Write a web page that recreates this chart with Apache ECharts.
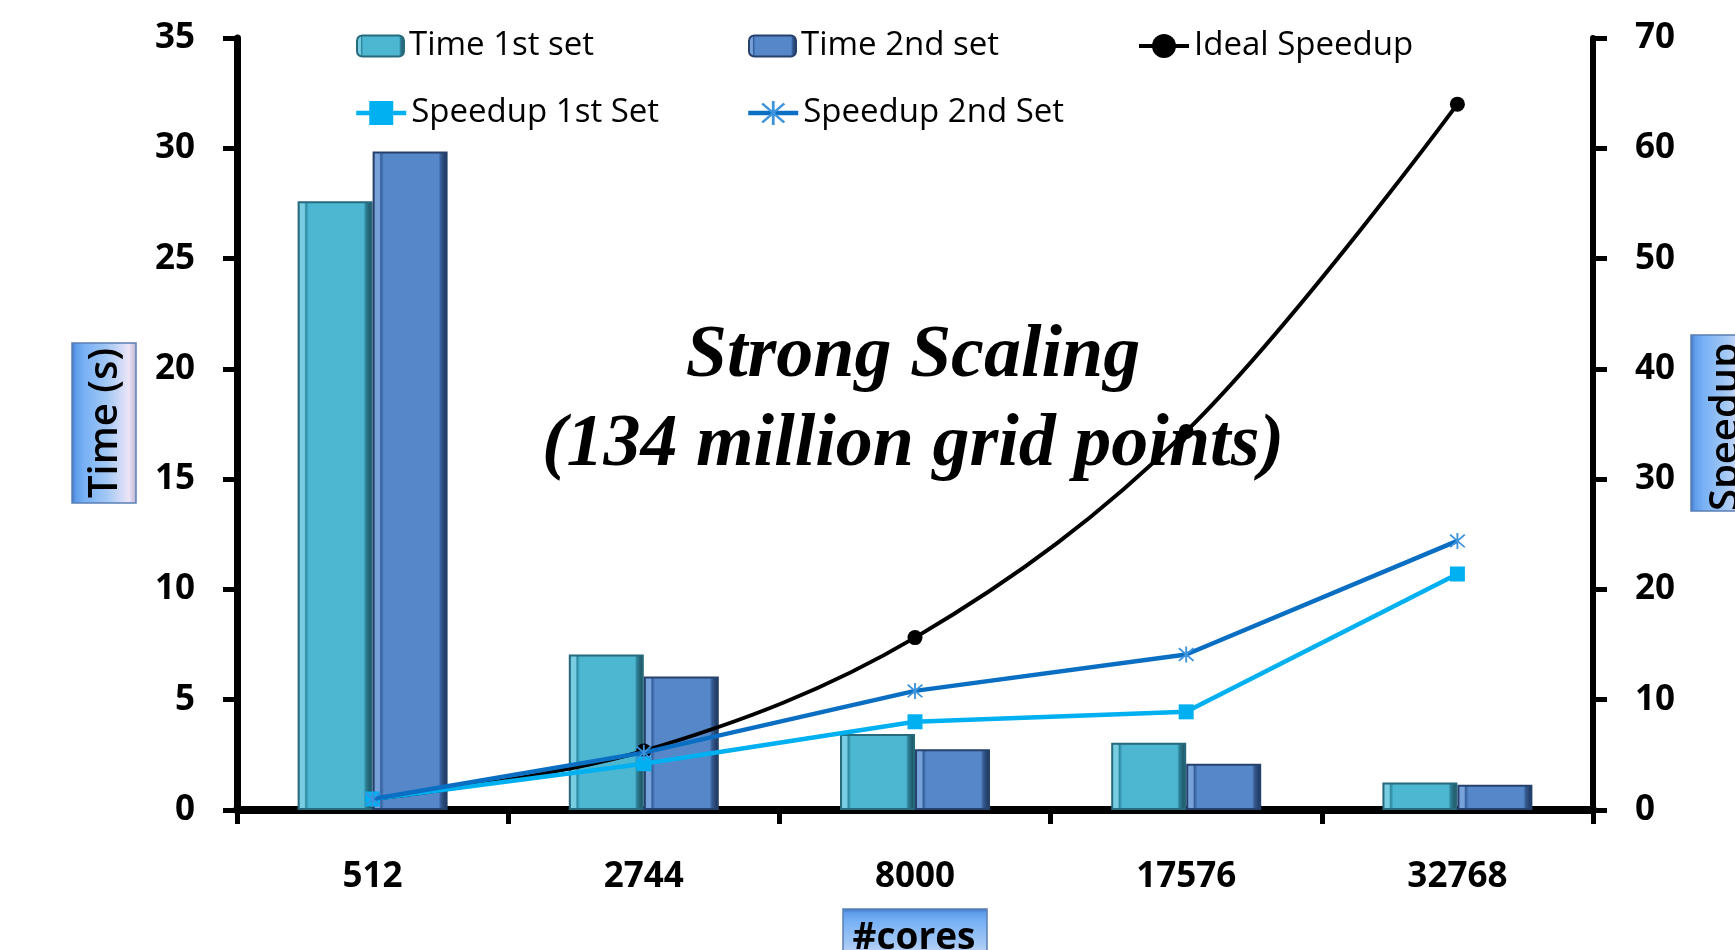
<!DOCTYPE html>
<html>
<head>
<meta charset="utf-8">
<title>Strong Scaling</title>
<script src="https://cdn.jsdelivr.net/npm/echarts@6/dist/echarts.min.js"></script>
<style>
  html, body { margin: 0; padding: 0; background: #ffffff; }
  #chart { width: 1735px; height: 950px; }
</style>
</head>
<body>
<div id="chart"></div>
<script>
// Core counts on the category axis
const cores = ['512', '2744', '8000', '17576', '32768'];

// Wall-clock time per run (s)
const time1st = [27.6, 7.05, 3.45, 3.05, 1.25];
const time2nd = [29.85, 6.05, 2.75, 2.1, 1.15];

// Speedup relative to 512 cores
const idealSpeedup = [1, 5.36, 15.63, 34.33, 64];
const speedup1st = [1, 4.2, 8.0, 8.9, 21.4];
const speedup2nd = [1, 5.2, 10.8, 14.1, 24.4];

// Tick values of the two value axes
const timeTicks = [0, 5, 10, 15, 20, 25, 30, 35];
const speedupTicks = [0, 10, 20, 30, 40, 50, 60, 70];

const chart = echarts.init(document.getElementById('chart'), null, { renderer: 'canvas' });

const lg = echarts.graphic.LinearGradient;

// Bevel-like horizontal shading for the bars
function bevelFill(edge, light, mid, fill, shade, dark) {
  return new lg(0, 0, 1, 0, [
    { offset: 0, color: edge },
    { offset: 0.03, color: light },
    { offset: 0.09, color: light },
    { offset: 0.11, color: mid },
    { offset: 0.15, color: fill },
    { offset: 0.88, color: fill },
    { offset: 0.91, color: shade },
    { offset: 0.97, color: dark },
    { offset: 1, color: edge }
  ]);
}

const barFill1 = bevelFill('#1c5665', '#78cde2', '#2b889f', '#4db7d2', '#2c7f95', '#215a69');
const barFill2 = bevelFill('#1f3860', '#78a2da', '#335d9a', '#5587c9', '#365b93', '#233d66');

const starSymbol = 'path://M9,0L11,0L11,20L9,20Z M1.4,2.8L2.8,1.4L18.6,17.2L17.2,18.6Z M17.2,1.4L18.6,2.8L2.8,18.6L1.4,17.2Z';

const legendText = { fontFamily: 'Open Sans', fontSize: 33, color: '#000000', lineHeight: 34 };

function legendAt(name, left, top, width, height) {
  return {
    data: [name],
    left: left,
    top: top,
    orient: 'horizontal',
    padding: 0,
    itemWidth: width,
    itemHeight: height,
    itemGap: 0,
    selectedMode: false,
    lineStyle: { width: 'inherit' },
    textStyle: legendText
  };
}

const axisLabelStyle = {
  fontFamily: 'Open Sans',
  fontWeight: 'bold',
  fontSize: 35,
  color: '#000000'
};

// Blue shaded tag behind an axis title
function titleTag(x, y, w, h, vertical) {
  const stops = [
    { offset: 0, color: '#3d70bd' },
    { offset: 0.07, color: '#5f9deb' },
    { offset: 0.2, color: '#78b1f5' },
    { offset: 0.55, color: '#a3c8f4' },
    { offset: 0.88, color: '#ece5f7' },
    { offset: 1, color: '#b9b0cf' }
  ];
  const fill = vertical ? new lg(0, 0, 1, 0, stops) : new lg(0, 0, 0, 1, stops);
  return {
    type: 'rect',
    shape: { x: x, y: y, width: w, height: h },
    style: { fill: fill, stroke: '#5a7fb4', lineWidth: 1.5 },
    z: 1
  };
}

const option = {
  backgroundColor: '#ffffff',
  animation: false,
  grid: { left: 237, right: 142, top: 38, bottom: 140, containLabel: false },
  legend: [
    legendAt('Time 1st set', 356, 29, 47, 21),
    legendAt('Time 2nd set', 748, 29, 47, 21),
    legendAt('Ideal Speedup', 1137, 29, 50, 30),
    legendAt('Speedup 1st Set', 354, 96, 50, 30),
    legendAt('Speedup 2nd Set', 746, 96, 50, 30)
  ],
  xAxis: {
    type: 'category',
    data: cores,
    boundaryGap: true,
    axisLine: { lineStyle: { color: '#000000', width: 8 } },
    axisTick: { show: true, length: 14, lineStyle: { color: '#000000', width: 5 } },
    axisLabel: Object.assign({ margin: 50 }, axisLabelStyle),
    splitLine: { show: false }
  },
  yAxis: [
    {
      type: 'value',
      min: timeTicks[0],
      max: timeTicks[timeTicks.length - 1],
      interval: timeTicks[1] - timeTicks[0],
      position: 'left',
      axisLine: { show: true, lineStyle: { color: '#000000', width: 7 } },
      axisTick: { show: true, length: 14, lineStyle: { color: '#000000', width: 5 } },
      axisLabel: Object.assign({ margin: 42 }, axisLabelStyle),
      splitLine: { show: false }
    },
    {
      type: 'value',
      min: speedupTicks[0],
      max: speedupTicks[speedupTicks.length - 1],
      interval: speedupTicks[1] - speedupTicks[0],
      position: 'right',
      axisLine: { show: true, lineStyle: { color: '#000000', width: 6 } },
      axisTick: { show: true, length: 14, lineStyle: { color: '#000000', width: 5 } },
      axisLabel: Object.assign({ margin: 42 }, axisLabelStyle),
      splitLine: { show: false }
    }
  ],
  series: [
    {
      name: 'Time 1st set',
      type: 'bar',
      yAxisIndex: 0,
      data: time1st,
      barWidth: 75,
      barGap: '0%',
      itemStyle: { color: barFill1, borderColor: '#266a7c', borderWidth: 2 }
    },
    {
      name: 'Time 2nd set',
      type: 'bar',
      yAxisIndex: 0,
      data: time2nd,
      barWidth: 75,
      barGap: '0%',
      itemStyle: { color: barFill2, borderColor: '#26416c', borderWidth: 2 }
    },
    {
      name: 'Ideal Speedup',
      type: 'line',
      yAxisIndex: 1,
      data: idealSpeedup,
      smooth: 0.35,
      symbol: 'circle',
      symbolSize: 15,
      lineStyle: { color: '#000000', width: 4 },
      itemStyle: { color: '#000000' },
      z: 3
    },
    {
      name: 'Speedup 1st Set',
      type: 'line',
      yAxisIndex: 1,
      data: speedup1st,
      symbol: 'rect',
      symbolSize: 15,
      lineStyle: { color: '#00b0f0', width: 4.5 },
      itemStyle: { color: '#00b0f0' },
      z: 4
    },
    {
      name: 'Speedup 2nd Set',
      type: 'line',
      yAxisIndex: 1,
      data: speedup2nd,
      symbol: starSymbol,
      symbolSize: 16,
      lineStyle: { color: '#0a6fc2', width: 4.5 },
      itemStyle: { color: '#3d93dc' },
      z: 5
    }
  ],
  graphic: [
    {
      type: 'text',
      x: 913,
      y: 357,
      z: 10,
      style: {
        text: 'Strong Scaling',
        fontFamily: 'Liberation Serif',
        fontStyle: 'italic',
        fontWeight: 'bold',
        fontSize: 74,
        fill: '#000000',
        textAlign: 'center',
        textVerticalAlign: 'middle'
      }
    },
    {
      type: 'text',
      x: 913,
      y: 446,
      z: 10,
      style: {
        text: '(134 million grid points)',
        fontFamily: 'Liberation Serif',
        fontStyle: 'italic',
        fontWeight: 'bold',
        fontSize: 74,
        fill: '#000000',
        textAlign: 'center',
        textVerticalAlign: 'middle'
      }
    },
    titleTag(72, 343, 64, 160, true),
    {
      type: 'text',
      x: 106,
      y: 423,
      rotation: Math.PI / 2,
      z: 2,
      style: {
        text: 'Time (s)',
        fontFamily: 'Open Sans',
        fontWeight: 600,
        fontSize: 40,
        fill: '#000000',
        textAlign: 'center',
        textVerticalAlign: 'middle'
      }
    },
    titleTag(1691, 335, 64, 176, true),
    {
      type: 'text',
      x: 1727,
      y: 427,
      rotation: Math.PI / 2,
      z: 2,
      style: {
        text: 'Speedup',
        fontFamily: 'Open Sans',
        fontWeight: 600,
        fontSize: 40,
        fill: '#000000',
        textAlign: 'center',
        textVerticalAlign: 'middle'
      }
    },
    titleTag(843, 909, 144, 64, false),
    {
      type: 'text',
      x: 914,
      y: 938,
      z: 2,
      style: {
        text: '#cores',
        fontFamily: 'Open Sans',
        fontWeight: 'bold',
        fontSize: 37,
        fill: '#000000',
        textAlign: 'center',
        textVerticalAlign: 'middle'
      }
    }
  ]
};

chart.setOption(option);
</script>
</body>
</html>
